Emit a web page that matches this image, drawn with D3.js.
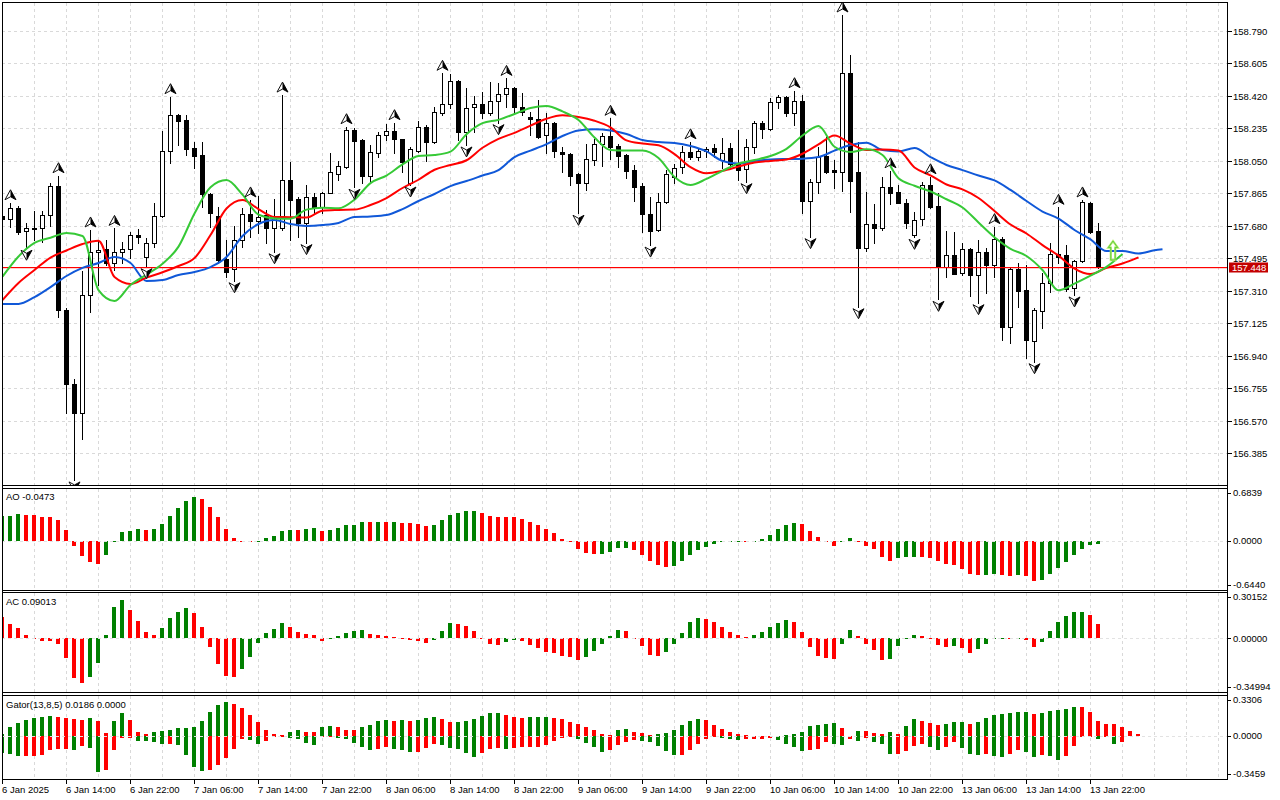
<!DOCTYPE html>
<html>
<head>
<meta charset="utf-8">
<script src="https://d3js.org/d3.v7.min.js"></script>
<style>
  body { margin: 0; background: #fff; }
  svg { display: block; font-family: "Liberation Sans", Arial, sans-serif; font-size: 9.5px; }
</style>
</head>
<body>
<script>
// ---- H1 candles, 6 Jan 06:00 .. 13 Jan 23:00 ----
var open = [157.736,157.717,157.779,157.650,157.665,157.665,157.740,157.906,157.200,156.778,
  156.612,157.286,157.529,157.546,157.466,157.532,157.546,157.627,157.504,157.580,
  157.736,158.106,158.310,158.282,158.121,158.083,157.861,157.736,157.489,157.432,
  157.599,157.747,157.709,157.741,157.665,157.665,157.940,157.831,157.697,157.842,
  157.789,157.868,157.975,158.016,158.225,158.168,157.965,158.096,158.197,158.221,
  158.172,157.925,158.107,158.244,158.158,158.324,158.371,158.504,158.215,158.354,
  158.371,158.320,158.390,158.428,158.462,158.358,158.301,158.286,158.197,158.263,
  158.102,158.088,157.975,157.925,158.054,158.145,158.191,158.134,158.083,157.997,
  157.906,157.745,157.656,157.817,157.959,158.013,158.102,158.070,158.107,158.121,
  158.054,158.121,158.031,158.001,158.127,158.263,158.229,158.383,158.415,158.324,
  158.390,157.823,157.931,158.077,157.997,157.988,158.548,157.984,157.552,157.688,
  157.665,157.899,157.874,157.811,157.626,157.717,157.912,157.792,157.444,157.514,
  157.413,157.546,157.400,157.529,157.457,157.603,157.105,157.432,157.314,157.026,
  157.197,157.352,157.519,157.514,157.324,157.479,157.811,157.652];
var high = [157.770,157.811,157.792,157.694,157.764,157.764,157.922,157.965,157.210,156.808,
  157.424,157.656,157.599,157.599,157.665,157.589,157.643,157.660,157.609,157.808,
  158.219,158.415,158.316,158.310,158.158,158.158,157.868,157.789,157.599,157.679,
  157.779,157.827,157.849,157.770,157.831,158.424,158.045,157.845,157.912,157.868,
  157.874,158.092,158.050,158.244,158.235,158.172,158.140,158.212,158.259,158.267,
  158.172,158.130,158.278,158.254,158.354,158.548,158.544,158.510,158.462,158.419,
  158.440,158.500,158.494,158.519,158.468,158.434,158.329,158.396,158.320,158.272,
  158.130,158.092,157.979,158.145,158.172,158.206,158.292,158.145,158.088,158.026,
  157.925,157.845,157.868,157.997,158.031,158.134,158.158,158.115,158.130,158.145,
  158.178,158.149,158.225,158.172,158.278,158.278,158.405,158.424,158.419,158.449,
  158.424,157.944,158.127,158.187,158.054,158.880,158.652,158.158,157.874,157.804,
  157.959,157.993,157.912,157.831,157.760,157.931,157.959,157.865,157.650,157.646,
  157.580,157.552,157.599,157.552,157.675,157.614,157.447,157.466,157.457,157.210,
  157.409,157.580,157.785,157.570,157.485,157.827,157.817,157.697];
var low = [157.690,157.675,157.631,157.552,157.599,157.589,157.680,157.162,156.616,156.233,
  156.464,157.191,157.343,157.457,157.428,157.466,157.495,157.584,157.447,157.561,
  157.732,158.039,158.140,158.083,158.011,157.785,157.675,157.466,157.390,157.367,
  157.557,157.618,157.637,157.580,157.532,157.656,157.599,157.614,157.584,157.754,
  157.751,157.865,157.940,158.007,157.899,157.925,157.931,158.073,158.168,158.096,
  157.988,157.912,158.102,158.050,158.149,158.310,158.349,158.168,158.140,158.215,
  158.292,158.310,158.267,158.354,158.324,158.310,158.197,158.178,158.096,158.070,
  157.988,157.912,157.751,157.884,158.026,158.020,158.058,158.016,157.950,157.823,
  157.646,157.570,157.652,157.811,157.922,157.982,158.058,158.054,158.073,158.073,
  158.007,158.016,157.940,157.931,158.096,158.178,158.225,158.349,158.305,158.254,
  157.751,157.618,157.865,157.979,157.893,157.880,157.760,157.219,157.538,157.580,
  157.656,157.804,157.808,157.665,157.614,157.684,157.779,157.261,157.390,157.405,
  157.400,157.280,157.242,157.296,157.390,157.030,157.011,157.219,156.926,156.906,
  157.096,157.305,157.466,157.310,157.286,157.475,157.637,157.438];
var close = [157.718,157.779,157.646,157.665,157.664,157.740,157.906,157.200,156.778,156.612,
  157.286,157.529,157.542,157.466,157.532,157.546,157.627,157.618,157.580,157.736,
  158.106,158.309,158.278,158.117,158.079,157.861,157.754,157.485,157.419,157.599,
  157.747,157.709,157.732,157.669,157.722,157.940,157.827,157.694,157.842,157.789,
  157.868,157.988,158.020,158.225,158.164,157.965,158.102,158.197,158.221,158.172,
  158.045,158.115,158.244,158.158,158.326,158.371,158.504,158.215,158.349,158.371,
  158.320,158.390,158.428,158.462,158.358,158.329,158.286,158.187,158.263,158.107,
  158.088,157.965,157.925,158.058,158.145,158.191,158.130,158.079,157.993,157.902,
  157.745,157.652,157.817,157.975,158.010,158.102,158.070,158.107,158.117,158.102,
  158.092,158.031,157.997,158.127,158.263,158.229,158.383,158.411,158.324,158.390,
  157.823,157.931,158.073,157.988,157.988,158.548,157.937,157.552,157.688,157.669,
  157.899,157.868,157.811,157.697,157.713,157.912,157.789,157.444,157.514,157.405,
  157.546,157.400,157.529,157.457,157.603,157.105,157.432,157.310,157.030,157.200,
  157.352,157.519,157.504,157.318,157.479,157.817,157.646,157.448];
var lastPrice = 157.448;

// fractal bars
var upFractals = [1,7,11,14,21,31,35,43,49,55,63,76,86,99,105,111,116,124,132,135];
var downFractals = [3,9,18,29,34,38,44,51,58,62,72,81,93,101,107,114,117,122,129,134];
var signalBar = 139, signalPrice = 157.593;

// alligator, read every 2nd bar from bar 0 (jaw has one extra point at bar 145)
var jaw = [157.235,157.235,157.274,157.331,157.394,157.440,157.468,157.502,157.468,157.366,
  157.371,157.400,157.417,157.445,157.502,157.622,157.690,157.713,157.690,157.679,
  157.684,157.696,157.730,157.733,157.741,157.775,157.821,157.861,157.906,157.935,
  157.966,157.997,158.071,158.108,158.145,158.191,158.222,158.229,158.222,158.202,
  158.168,158.157,158.151,158.134,158.103,158.049,158.034,158.049,158.057,158.060,
  158.062,158.071,158.108,158.140,158.153,158.111,158.103,158.123,158.071,158.026,
  157.997,157.966,157.938,157.884,157.821,157.761,157.721,157.656,157.602,157.536,
  157.536,157.522,157.540];
var jawEnd = 157.546;
var teeth = [157.257,157.354,157.428,157.499,157.539,157.576,157.595,157.388,157.349,157.385,
  157.415,157.451,157.496,157.627,157.778,157.827,157.775,157.730,157.729,157.727,
  157.766,157.770,157.772,157.798,157.838,157.895,157.942,157.999,158.026,158.053,
  158.124,158.175,158.209,158.250,158.289,158.309,158.299,158.278,158.240,158.166,
  158.148,158.138,158.088,158.014,157.979,157.993,158.017,158.040,158.049,158.057,
  158.090,158.143,158.194,158.148,158.112,158.114,158.108,158.012,157.967,157.915,
  157.887,157.838,157.764,157.687,157.636,157.570,157.510,157.436,157.405,157.440,
  157.465,157.500];
var lips = [157.390,157.505,157.582,157.612,157.639,157.622,157.314,157.252,157.343,157.402,
  157.464,157.561,157.750,157.899,157.940,157.857,157.743,157.722,157.720,157.772,
  157.783,157.779,157.829,157.923,157.966,158.029,158.077,158.083,158.102,158.201,
  158.264,158.283,158.316,158.351,158.362,158.331,158.282,158.182,158.111,158.108,
  158.109,158.066,157.958,157.912,157.947,157.993,158.034,158.054,158.077,158.118,
  158.194,158.248,158.130,158.100,158.115,158.083,157.950,157.908,157.875,157.831,
  157.784,157.699,157.615,157.549,157.508,157.428,157.313,157.351,157.396,157.446,
  157.519];

// oscillators
var ao = [0.315,0.323,0.349,0.332,0.328,0.310,0.309,0.272,0.142,-0.065,
  -0.207,-0.284,-0.310,-0.194,-0.010,0.116,0.129,0.155,0.142,0.155,
  0.220,0.323,0.427,0.513,0.569,0.543,0.440,0.310,0.155,0.039,
  -0.009,-0.022,-0.009,0.039,0.065,0.129,0.142,0.140,0.155,0.168,
  0.129,0.142,0.168,0.198,0.207,0.246,0.241,0.246,0.244,0.246,
  0.233,0.222,0.219,0.194,0.198,0.263,0.336,0.362,0.388,0.390,
  0.362,0.323,0.310,0.308,0.306,0.284,0.246,0.207,0.147,0.103,
  0.026,-0.020,-0.116,-0.168,-0.181,-0.179,-0.151,-0.103,-0.101,-0.129,
  -0.194,-0.272,-0.323,-0.349,-0.336,-0.272,-0.194,-0.129,-0.078,-0.039,
  -0.022,-0.020,-0.018,-0.022,-0.008,0.026,0.078,0.147,0.207,0.233,
  0.220,0.129,0.052,-0.009,-0.073,-0.022,0.039,-0.004,-0.065,-0.112,
  -0.220,-0.272,-0.233,-0.218,-0.216,-0.219,-0.221,-0.272,-0.310,-0.323,
  -0.375,-0.440,-0.448,-0.446,-0.440,-0.452,-0.462,-0.455,-0.465,-0.530,
  -0.517,-0.440,-0.362,-0.284,-0.194,-0.116,-0.052,-0.047];
var ac = [0.139,0.091,0.065,0.022,0.002,-0.017,-0.019,-0.039,-0.130,-0.261,
  -0.293,-0.254,-0.163,0.022,0.204,0.248,0.182,0.111,0.039,0.022,
  0.065,0.132,0.169,0.195,0.163,0.072,-0.056,-0.169,-0.248,-0.254,
  -0.202,-0.124,-0.033,0.033,0.059,0.098,0.072,0.039,0.026,0.024,
  -0.017,-0.004,0.013,0.033,0.046,0.052,0.026,0.024,0.013,0.007,
  -0.002,-0.009,-0.015,-0.030,-0.011,0.046,0.098,0.096,0.078,0.046,
  -0.004,-0.037,-0.043,-0.024,-0.011,-0.017,-0.043,-0.063,-0.089,-0.096,
  -0.115,-0.122,-0.141,-0.122,-0.083,-0.037,0.013,0.052,0.046,-0.002,
  -0.050,-0.109,-0.115,-0.089,-0.037,0.033,0.104,0.130,0.124,0.104,
  0.072,0.039,0.020,0.007,0.020,0.039,0.072,0.098,0.117,0.104,
  0.039,-0.056,-0.115,-0.128,-0.135,-0.037,0.052,0.013,-0.037,-0.076,
  -0.141,-0.135,-0.050,-0.004,0.020,0.013,-0.004,-0.043,-0.056,-0.050,
  -0.063,-0.096,-0.069,-0.037,-0.004,-0.002,-0.003,-0.001,-0.011,-0.056,
  -0.024,0.046,0.104,0.143,0.169,0.170,0.150,0.091];
var gatorUp = [0.019,0.070,0.102,0.126,0.142,0.150,0.158,0.157,0.142,0.134,
  0.126,0.142,0.118,0.021,0.118,0.182,0.126,0.030,0.013,0.030,
  0.038,0.046,0.062,0.063,0.070,0.118,0.191,0.247,0.271,0.255,
  0.223,0.166,0.110,0.046,0.013,0.012,0.030,0.046,0.030,0.029,
  0.070,0.078,0.070,0.046,0.045,0.070,0.086,0.118,0.126,0.125,
  0.127,0.118,0.126,0.142,0.150,0.134,0.110,0.113,0.118,0.134,
  0.158,0.182,0.183,0.166,0.150,0.142,0.150,0.151,0.152,0.142,
  0.134,0.110,0.094,0.070,0.046,0.013,0.005,0.046,0.054,0.030,
  0.021,0.005,0.013,0.021,0.046,0.086,0.118,0.134,0.126,0.086,
  0.054,0.030,0.013,0.005,0.004,0.003,0.002,0.004,0.008,0.013,
  0.030,0.078,0.090,0.095,0.102,0.067,0.002,0.043,0.042,0.027,
  0.019,0.035,0.019,0.083,0.140,0.123,0.107,0.091,0.099,0.115,
  0.116,0.099,0.115,0.148,0.172,0.180,0.188,0.196,0.197,0.180,
  0.188,0.204,0.212,0.220,0.236,0.235,0.196,0.123,0.099,0.098,
  0.075,0.043,0.019];
var gatorDown = [-0.137,-0.148,-0.164,-0.162,-0.161,-0.156,-0.115,-0.107,-0.106,-0.115,
  -0.083,-0.099,-0.293,-0.276,-0.115,-0.019,-0.018,-0.040,-0.041,-0.051,
  -0.067,-0.066,-0.075,-0.156,-0.253,-0.285,-0.276,-0.236,-0.180,-0.107,
  -0.027,-0.035,-0.067,-0.043,-0.011,-0.010,-0.019,-0.020,-0.059,-0.075,
  -0.011,-0.010,-0.019,-0.027,-0.059,-0.091,-0.115,-0.107,-0.091,-0.105,
  -0.110,-0.132,-0.130,-0.099,-0.067,-0.075,-0.099,-0.101,-0.140,-0.172,
  -0.140,-0.107,-0.099,-0.107,-0.099,-0.091,-0.090,-0.089,-0.075,-0.043,
  -0.016,-0.008,-0.027,-0.059,-0.091,-0.132,-0.115,-0.075,-0.051,-0.035,
  -0.036,-0.051,-0.083,-0.123,-0.156,-0.155,-0.115,-0.067,-0.027,-0.011,
  -0.016,-0.027,-0.028,-0.024,-0.023,-0.022,-0.016,-0.035,-0.067,-0.091,
  -0.123,-0.115,-0.107,-0.048,-0.064,-0.075,-0.027,-0.043,-0.019,-0.051,
  -0.067,-0.148,-0.147,-0.123,-0.083,-0.067,-0.091,-0.115,-0.091,-0.051,
  -0.099,-0.148,-0.149,-0.147,-0.164,-0.165,-0.148,-0.115,-0.132,-0.172,
  -0.156,-0.157,-0.196,-0.164,-0.083,-0.005,-0.002,-0.027,-0.011,-0.067,
  -0.051];
var aoNow = -0.0473, acNow = 0.09013, gatorNow = [0.0186, 0.0000];

// axes
var priceTicks = [158.790,158.605,158.420,158.235,158.050,157.865,157.680,157.495,157.310,
  157.125,156.940,156.755,156.570,156.385];
var aoRange = [-0.6440, 0.6839], acRange = [-0.34994, 0.30152], gatorRange = [-0.3459, 0.3306];
var timeLabels = ["6 Jan 2025","6 Jan 14:00","6 Jan 22:00","7 Jan 06:00","7 Jan 14:00",
  "7 Jan 22:00","8 Jan 06:00","8 Jan 14:00","8 Jan 22:00","9 Jan 06:00","9 Jan 14:00",
  "9 Jan 22:00","10 Jan 06:00","10 Jan 14:00","10 Jan 22:00","13 Jan 06:00",
  "13 Jan 14:00","13 Jan 22:00"];

var GREEN = "#008000", RED = "#ff0000", GRID = "#d9d9d9";
var L = 2, R = 1227;

var svg = d3.select("body").append("svg").attr("width", 1280).attr("height", 800);
svg.append("rect").attr("width", 1280).attr("height", 800).attr("fill", "#fff");

var x = d3.scaleLinear().domain([0, 153]).range([2, 1226]);
var y = d3.scaleLinear().domain([156.204, 158.954]).range([485, 2]);
var yAO = d3.scaleLinear().domain(aoRange).range([590, 488]);
var yAC = d3.scaleLinear().domain(acRange).range([692, 592]);
var yG = d3.scaleLinear().domain(gatorRange).range([779, 695]);

var defs = svg.append("defs");
function clip(id, y0, y1) {
  defs.append("clipPath").attr("id", id).append("rect")
    .attr("x", L + 1).attr("y", y0).attr("width", R - L - 1).attr("height", y1 - y0);
}
clip("cMain", 3, 485); clip("cAO", 489, 590); clip("cAC", 593, 692); clip("cG", 696, 779);

function px(v) { return Math.round(v) + 0.5; }

// vertical grid in every pane
var gridBars = d3.range(4, 153, 4);
[[3, 485], [489, 590], [593, 692], [696, 779]].forEach(function(p) {
  svg.append("g").selectAll("line").data(gridBars).enter().append("line")
    .attr("x1", function(b) { return x(b) + 0.5; }).attr("x2", function(b) { return x(b) + 0.5; })
    .attr("y1", p[0]).attr("y2", p[1])
    .attr("stroke", GRID).attr("stroke-dasharray", "3,3");
});
svg.append("g").selectAll("line").data(priceTicks).enter().append("line")
  .attr("x1", L).attr("x2", R)
  .attr("y1", function(d) { return px(y(d)); }).attr("y2", function(d) { return px(y(d)); })
  .attr("stroke", GRID).attr("stroke-dasharray", "3,3");

// ---- main pane ----
var main = svg.append("g").attr("clip-path", "url(#cMain)");
var idx = d3.range(open.length);

main.append("g").selectAll("line").data(idx).enter().append("line")
  .attr("x1", function(i) { return x(i) + 0.5; }).attr("x2", function(i) { return x(i) + 0.5; })
  .attr("y1", function(i) { return Math.round(y(high[i])); })
  .attr("y2", function(i) { return Math.round(y(low[i])) + 1; })
  .attr("stroke", "#000");

main.append("g").selectAll("rect").data(idx).enter().append("rect")
  .attr("x", function(i) { return x(i) - 1.5; })
  .attr("y", function(i) { return px(y(Math.max(open[i], close[i]))); })
  .attr("width", 4)
  .attr("height", function(i) {
    return Math.max(1, Math.round(y(Math.min(open[i], close[i]))) - Math.round(y(Math.max(open[i], close[i]))));
  })
  .attr("fill", function(i) { return close[i] >= open[i] ? "#fff" : "#000"; })
  .attr("stroke", "#000").attr("shape-rendering", "crispEdges");

// bid line
main.append("rect").attr("x", L).attr("width", R - L)
  .attr("y", Math.round(y(lastPrice))).attr("height", 1.2)
  .attr("fill", "#ff0000");

// alligator
function pts(arr) { return arr.map(function(v, k) { return [2 * k, v]; }); }
var jawPts = pts(jaw); jawPts.push([145, jawEnd]);
var line = d3.line().x(function(d) { return x(d[0]) + 0.5; }).y(function(d) { return y(d[1]); })
  .curve(d3.curveMonotoneX);
[[jawPts, "#1058d8"], [pts(teeth), "#ff0000"], [pts(lips), "#36c936"]].forEach(function(s) {
  main.append("path").attr("d", line(s[0])).attr("fill", "none")
    .attr("stroke", s[1]).attr("stroke-width", 2).attr("stroke-linejoin", "round");
});

// fractals
function fractal(g, cx, cy, up) {
  var s = up ? 1 : -1;
  var tip = -5 * s, wing = 5 * s, notch = 2 * s;
  g.append("path").attr("d", "M" + cx + "," + (cy + tip) + "L" + (cx - 5.5) + "," + (cy + wing) +
      "L" + cx + "," + (cy + notch) + "L" + (cx + 5.5) + "," + (cy + wing) + "Z")
    .attr("fill", "#fff").attr("stroke", "#111").attr("stroke-width", 1).attr("stroke-linejoin", "miter");
  g.append("path").attr("d", "M" + cx + "," + (cy + tip) + "L" + (cx + 5.5) + "," + (cy + wing) +
      "L" + cx + "," + (cy + notch) + "Z")
    .attr("fill", "#000");
}
upFractals.forEach(function(i) { fractal(main, x(i) + 0.5, y(high[i]) - 8, true); });
downFractals.forEach(function(i) { fractal(main, x(i) + 0.5, y(low[i]) + 7, false); });

// alligator signal arrow
(function() {
  var cx = x(signalBar) - 1, ty = y(signalPrice);
  var p = [[0, 0], [4.7, 6.5], [2.2, 6.5], [2.2, 19], [-2.2, 19], [-2.2, 6.5], [-4.7, 6.5]];
  var d = "M" + p.map(function(q) { return (cx + q[0]) + "," + (ty + q[1]); }).join("L") + "Z";
  main.append("path").attr("d", d).attr("fill", "none")
    .attr("stroke", "#b6ef6a").attr("stroke-width", 2.2).attr("stroke-linejoin", "miter");
  main.append("path").attr("d", d).attr("fill", "none")
    .attr("stroke", "#4cc23a").attr("stroke-width", 0.8).attr("stroke-linejoin", "miter");
})();

// ---- oscillator panes ----
function colorSeq(arr, firstUp, useAbs) {
  return arr.map(function(v, i) {
    if (i === 0) return firstUp ? GREEN : RED;
    var a = useAbs ? Math.abs(v) : v, b = useAbs ? Math.abs(arr[i - 1]) : arr[i - 1];
    return a > b ? GREEN : RED;
  });
}
function bars(clipId, arr, scale, colors) {
  var g = svg.append("g").attr("clip-path", "url(#" + clipId + ")");
  var z = Math.round(scale(0));
  g.selectAll("rect").data(arr).enter().append("rect")
    .attr("x", function(d, i) { return x(i) - 2; })
    .attr("y", function(d) { return Math.min(z, Math.round(scale(d))); })
    .attr("width", 4)
    .attr("height", function(d) { return Math.max(1, Math.abs(Math.round(scale(d)) - z)); })
    .attr("fill", function(d, i) { return colors[i]; })
    .attr("shape-rendering", "crispEdges");
  return g;
}
bars("cAO", ao, yAO, colorSeq(ao, true, false));
bars("cAC", ac, yAC, colorSeq(ac, false, false));
bars("cG", gatorUp, yG, colorSeq(gatorUp, true, true));
bars("cG", gatorDown, yG, colorSeq(gatorDown, true, true));

[yAO, yAC, yG].forEach(function(s) {
  svg.append("line").attr("x1", L).attr("x2", R)
    .attr("y1", px(s(0))).attr("y2", px(s(0)))
    .attr("stroke", "#e2e2e2").attr("stroke-dasharray", "3,3");
});

// pane titles
svg.append("text").attr("x", 6).attr("y", 500).text("AO " + aoNow.toFixed(4));
svg.append("text").attr("x", 6).attr("y", 605).text("AC " + acNow.toFixed(5));
svg.append("text").attr("x", 6).attr("y", 708)
  .text("Gator(13,8,5) " + gatorNow[0].toFixed(4) + " " + gatorNow[1].toFixed(4));

// ---- frames ----
var frame = svg.append("g").attr("stroke", "#000").attr("shape-rendering", "crispEdges");
[[L, 2.5, R + 0.5, 2.5], [L + 0.5, 2, L + 0.5, 780], [R + 0.5, 2, R + 0.5, 780],
 [L, 485.5, R, 485.5], [L, 488.5, R, 488.5], [L, 590.5, R, 590.5], [L, 592.5, R, 592.5],
 [L, 692.5, R, 692.5], [L, 695.5, R, 695.5], [L, 779.5, R + 1, 779.5]].forEach(function(l) {
  frame.append("line").attr("x1", l[0]).attr("y1", l[1]).attr("x2", l[2]).attr("y2", l[3]);
});

// ---- right axis ----
var axis = svg.append("g");
priceTicks.forEach(function(p) {
  var yy = px(y(p));
  axis.append("line").attr("x1", R).attr("x2", R + 5).attr("y1", yy).attr("y2", yy).attr("stroke", "#000");
  axis.append("text").attr("x", 1233).attr("y", yy).attr("dy", "0.35em").text(p.toFixed(3));
});
var by = px(y(lastPrice));
axis.append("rect").attr("x", 1229).attr("y", by - 5).attr("width", 39).attr("height", 10).attr("fill", "#c40000");
axis.append("text").attr("x", 1232).attr("y", by).attr("dy", "0.35em").attr("fill", "#fff").text(lastPrice.toFixed(3));

function oscAxis(scale, range, digits) {
  var t = scale(range[1]), b = scale(range[0]);
  [[range[1], t + 5], [0, scale(0)], [range[0], b - 5]].forEach(function(d) {
    axis.append("line").attr("x1", R).attr("x2", R + 4).attr("y1", px(d[1])).attr("y2", px(d[1])).attr("stroke", "#000");
    axis.append("text").attr("x", 1233).attr("y", d[1]).attr("dy", "0.35em").text(d[0].toFixed(digits));
  });
}
oscAxis(yAO, aoRange, 4);
oscAxis(yAC, acRange, 5);
oscAxis(yG, gatorRange, 4);

// ---- time axis ----
timeLabels.forEach(function(t, k) {
  var xx = x(8 * k) + 0.5;
  axis.append("line").attr("x1", xx).attr("x2", xx).attr("y1", 780).attr("y2", 784).attr("stroke", "#000");
  axis.append("text").attr("x", x(8 * k)).attr("y", 793).text(t);
});
</script>
</body>
</html>
